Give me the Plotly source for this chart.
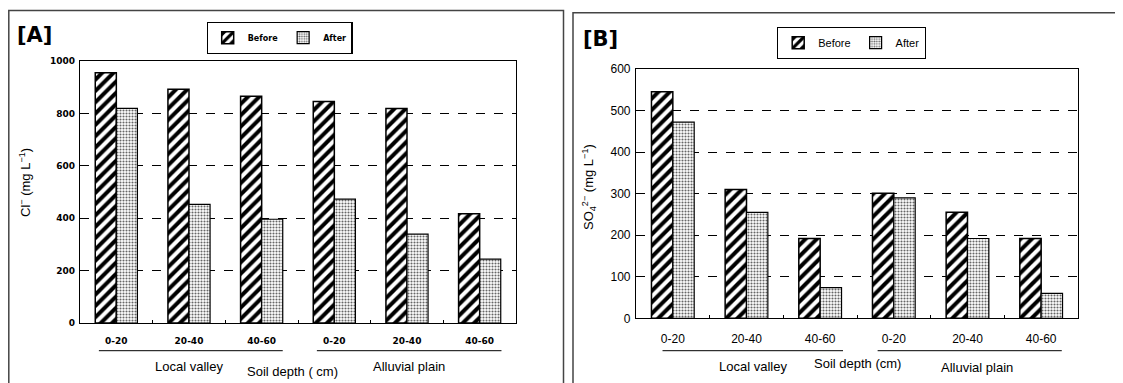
import plotly.graph_objects as go

# page is drawn with an 8px body margin; size the figure to fit the window
OFF = 8
W, H = 1123 - OFF, 383 - OFF

# ---- data ----
categories = ["LV 0-20", "LV 20-40", "LV 40-60", "AP 0-20", "AP 20-40", "AP 40-60"]
depth_labels = ["0-20", "20-40", "40-60", "0-20", "20-40", "40-60"]
group_labels = ["Local valley", "Alluvial plain"]
cl_before = [955, 892, 865, 845, 819, 417]
cl_after = [819, 453, 396, 473, 339, 244]
so4_before = [545, 310, 192, 301, 255, 192]
so4_after = [472, 255, 74, 290, 192, 60]
cl_ticks = [0, 200, 400, 600, 800, 1000]
so4_ticks = [0, 100, 200, 300, 400, 500, 600]

def px_x(x):
    return (x - OFF) / W

def px_y(y):
    return 1 - (y - OFF) / H

hatch = dict(shape="/", size=8, solidity=0.5, fgcolor="black", bgcolor="white")
dots = dict(shape=".", size=3, solidity=0.4, fgcolor="#666666", bgcolor="white")

fig = go.Figure()

# Panel A
fig.add_trace(go.Bar(x=categories, y=cl_before, name="Before", xaxis="x", yaxis="y",
                     marker=dict(color="white", pattern=hatch, line=dict(color="black", width=1.5)),
                     legend="legend"))
fig.add_trace(go.Bar(x=categories, y=cl_after, name="After", xaxis="x", yaxis="y",
                     marker=dict(color="white", pattern=dots, line=dict(color="black", width=1.2)),
                     legend="legend"))
# Panel B
fig.add_trace(go.Bar(x=categories, y=so4_before, name="Before", xaxis="x2", yaxis="y2",
                     marker=dict(color="white", pattern=hatch, line=dict(color="black", width=1.5)),
                     legend="legend2"))
fig.add_trace(go.Bar(x=categories, y=so4_after, name="After", xaxis="x2", yaxis="y2",
                     marker=dict(color="white", pattern=dots, line=dict(color="black", width=1.2)),
                     legend="legend2"))

fontA = dict(family="DejaVu Sans", size=9, color="black", weight="bold")
fontB = dict(family="Liberation Sans", size=12, color="black")

common_x = dict(type="category", tickvals=categories, ticktext=depth_labels,
                showline=True, linecolor="black", linewidth=1.2, mirror=True,
                ticks="inside", ticklen=3, tickcolor="black", tickson="boundaries",
                showgrid=False, ticklabelstandoff=9, automargin=False)
common_y = dict(showline=True, linecolor="black", linewidth=1.2, mirror=True,
                showgrid=True, gridcolor="black", griddash="dash", gridwidth=1,
                zeroline=False, ticks="", ticklen=0, ticklabelstandoff=2, automargin=False)

fig.update_layout(
    template="none",
    width=W, height=H, margin=dict(l=0, r=0, t=0, b=0, pad=0),
    paper_bgcolor="white", plot_bgcolor="white",
    barmode="group", bargap=0.42, bargroupgap=0,
    xaxis=dict(domain=[px_x(80), px_x(516)], anchor="y", tickfont=fontA, **common_x),
    yaxis=dict(domain=[px_y(323), px_y(61)], anchor="x", range=[0, 1000],
               tickvals=cl_ticks, tickfont=fontA, **common_y),
    xaxis2=dict(domain=[px_x(636), px_x(1078)], anchor="y2", tickfont=fontB, **common_x),
    yaxis2=dict(domain=[px_y(318.3), px_y(69)], anchor="x2", range=[0, 600],
                tickvals=so4_ticks, tickfont=fontB, **common_y),
    legend=dict(orientation="h", x=px_x(279.5), xanchor="center", y=px_y(22), yanchor="top",
                bordercolor="black", borderwidth=1.2, font=dict(family="DejaVu Sans", size=8,
                color="black", weight="bold"), itemwidth=30, bgcolor="white"),
    legend2=dict(orientation="h", x=px_x(851.5), xanchor="center", y=px_y(27), yanchor="top",
                 bordercolor="black", borderwidth=1.2, font=dict(family="Liberation Sans", size=11, color="black"),
                 itemwidth=30, bgcolor="white"),
    showlegend=True,
)

shapes = []
# panel frames
shapes.append(dict(type="rect", xref="paper", yref="paper", x0=px_x(8.8), x1=px_x(563.5),
                   y0=px_y(400), y1=px_y(10.5), line=dict(color="#444444", width=1.5)))
shapes.append(dict(type="rect", xref="paper", yref="paper", x0=px_x(573), x1=px_x(1140),
                   y0=px_y(400), y1=px_y(12.7), line=dict(color="#444444", width=1.5)))
# group underlines (in category index coordinates)
for xr, spans, ypx in [("x", [(-0.24, 2.29), (2.76, 5.30)], 350.7),
                       ("x2", [(-0.14, 2.31), (2.78, 5.28)], 350.7)]:
    for a, b in spans:
        shapes.append(dict(type="line", xref=xr, yref="paper", x0=a, x1=b,
                           y0=px_y(ypx), y1=px_y(ypx), line=dict(color="black", width=1)))
fig.update_layout(shapes=shapes)

ann = []
labfont = dict(family="Liberation Sans", size=13, color="black")
C = dict(showarrow=False, xanchor="center", yanchor="middle")
# panel A group labels
ann.append(dict(xref="x", yref="paper", x=1.0, y=px_y(366), text=group_labels[0], font=labfont, **C))
ann.append(dict(xref="x", yref="paper", x=4.03, y=px_y(366), text=group_labels[1], font=labfont, **C))
ann.append(dict(xref="x", yref="paper", x=2.43, y=px_y(371), text="Soil depth ( cm)", font=labfont, **C))
# panel B group labels
ann.append(dict(xref="x2", yref="paper", x=1.09, y=px_y(366), text=group_labels[0], font=labfont, **C))
ann.append(dict(xref="x2", yref="paper", x=4.13, y=px_y(367), text=group_labels[1], font=labfont, **C))
ann.append(dict(xref="x2", yref="paper", x=2.51, y=px_y(363), text="Soil depth (cm)", font=labfont, **C))
# axis titles
ann.append(dict(xref="paper", yref="paper", x=px_x(25), y=px_y(183), textangle=-90,
                text="Cl<sup>−</sup> (mg L<sup>−1</sup>)",
                font=dict(family="Liberation Sans", size=13, color="black"), **C))
ann.append(dict(xref="paper", yref="paper", x=px_x(589), y=px_y(187), textangle=-90,
                text="SO<sub>4</sub><sup>2−</sup> (mg L<sup>−1</sup>)",
                font=dict(family="Liberation Sans", size=13, color="black"), **C))
# panel letters
ann.append(dict(xref="paper", yref="paper", x=px_x(34), y=px_y(35), text="<b>[A]</b>",
                font=dict(family="DejaVu Sans", size=21, color="black"), **C))
ann.append(dict(xref="paper", yref="paper", x=px_x(600), y=px_y(39), text="<b>[B]</b>",
                font=dict(family="DejaVu Sans", size=21, color="black"), **C))
fig.update_layout(annotations=ann)

fig.write_html("out.html")
